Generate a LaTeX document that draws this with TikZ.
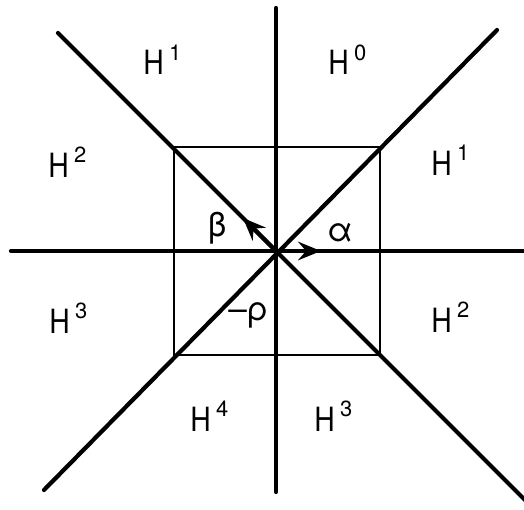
\documentclass[tikz,border=0pt]{standalone}
\usepackage{fontspec}
\setmainfont{TeX Gyre Heros}
\usetikzlibrary{arrows.meta}
\newcommand{\hreg}[1]{\scalebox{0.85}[1]{H}\hspace{3pt}\raisebox{8.5pt}{\fontsize{12.5}{13}\selectfont #1}}

\begin{document}
\begin{tikzpicture}[x=0.02cm, y=-0.02cm,
    wall/.style={line width=2.4pt, line cap=round},
    frame/.style={line width=1.1pt},
    region/.style={font=\fontsize{19}{20}\selectfont, inner sep=0pt, anchor=base west},
    greek/.style={font=\fontsize{19}{20}\selectfont, inner sep=0pt},
    root/.style={line width=2.4pt, -{Stealth[length=13pt,width=10.5pt,inset=4.5pt]}}]
  \useasboundingbox (0,0) rectangle (524,510);

  \coordinate (O) at (276,251);
  \coordinate (top) at (276,8);
  \coordinate (bot) at (276,492);
  \coordinate (lft) at (11,251);
  \coordinate (rgt) at (530,251);
  \coordinate (ul) at (58,33);
  \coordinate (lr) at (530,505);
  \coordinate (ur) at (497,30);
  \coordinate (ll) at (44,490);

  \draw[frame] (174,147) rectangle (380,355);

  \draw[wall] (top) -- (bot);
  \draw[wall] (lft) -- (rgt);
  \draw[wall] (ul) -- (lr);
  \draw[wall] (ur) -- (ll);

  \coordinate (atip) at (321,251);
  \coordinate (btip) at (243,218);
  \draw[root] (O) -- (atip);
  \draw[root] (O) -- (btip);

  \node[region] (h1a) at (143,75) {\hreg{1}};
  \node[region] (h0)  at (328,75) {\hreg{0}};
  \node[region] (h2a) at (48,177) {\hreg{2}};
  \node[region] (h1b) at (431,175) {\hreg{1}};
  \node[region] (h3a) at (49,333) {\hreg{3}};
  \node[region] (h2b) at (431,332) {\hreg{2}};
  \node[region] (h4)  at (190,431) {\hreg{4}};
  \node[region] (h3b) at (314,431) {\hreg{3}};

  \node[greek] (beta)  at (217,228) {β};
  \node[greek] (alpha) at (340,233) {α};
  \node[greek, anchor=base west] (rho) at (228,320) {–ρ};
\end{tikzpicture}
\end{document}
